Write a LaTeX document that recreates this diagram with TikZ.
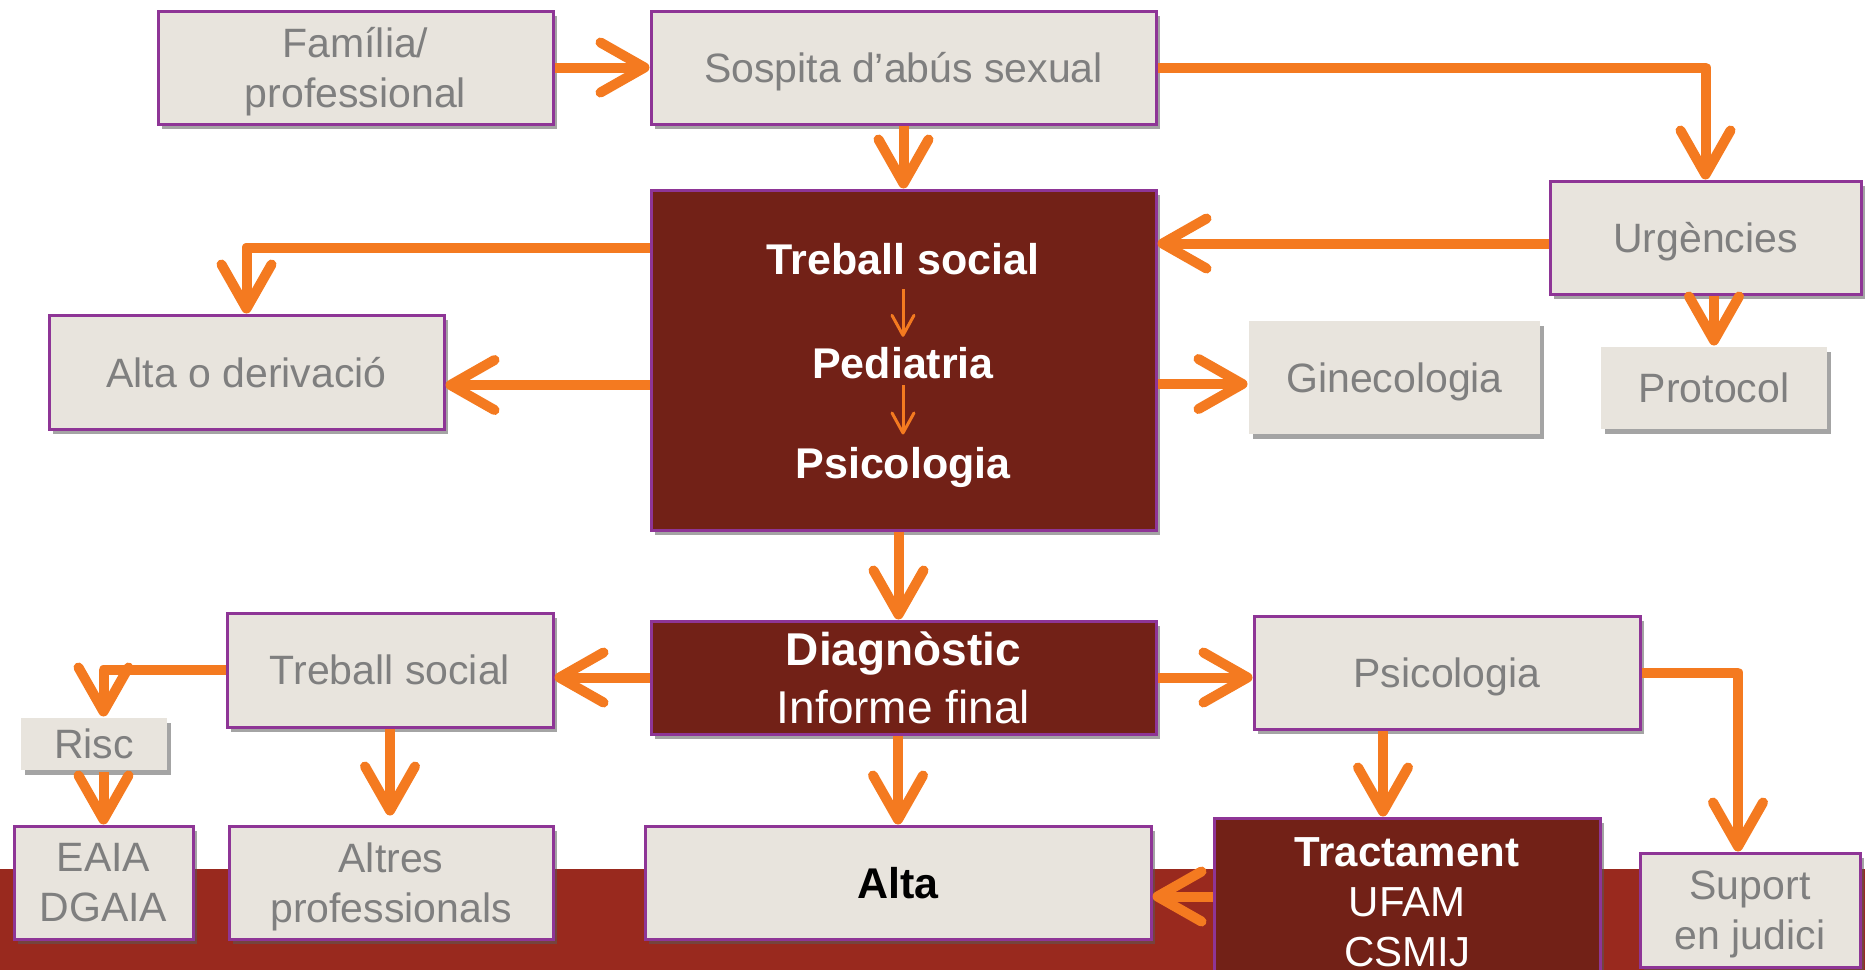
\documentclass[tikz,border=0pt]{standalone}
\usepackage{fontspec}
\setmainfont{Liberation Sans}
\usetikzlibrary{arrows.meta,shadows,calc}
\definecolor{boxfill}{HTML}{E8E4DD}
\definecolor{boxline}{HTML}{8E3596}
\definecolor{txtgray}{HTML}{7F7F7F}
\definecolor{darkbox}{HTML}{722117}
\definecolor{barred}{HTML}{99291E}
\definecolor{orangec}{HTML}{F47A20}
\begin{document}
\begin{tikzpicture}[x=0.5pt,y=-0.5pt,
  lightbox/.style={fill=boxfill, draw=boxline, line width=1.5pt, text=txtgray, align=center, inner sep=0pt,
    text depth=0pt,
    font=\fontsize{20.5pt}{25pt}\selectfont,
    drop shadow={shadow xshift=2pt, shadow yshift=-2.5pt, fill=black!65, opacity=0.55}},
  plainbox/.style={lightbox, draw=none},
  darkbx/.style={lightbox, fill=darkbox, text=white},
  intext/.style={text=white, inner sep=0pt, font=\bfseries\fontsize{21.5pt}{26pt}\selectfont},
  flow/.style={draw=orangec, line width=5pt, line join=round, -{Straight Barb[length=22pt,width=25pt,round]}},
  smallflow/.style={draw=orangec, line width=1.5pt, -{Straight Barb[length=10pt,width=11pt,round]}},
]
\useasboundingbox (0,0) rectangle (1865,970);
\fill[barred] (0,869) rectangle (1865,970);

% top row
\node[lightbox, minimum width=197.5pt, minimum height=56.5pt] (fam) at (355.5,67.5) {Família/\\professional};
\node[lightbox, minimum width=252.5pt, minimum height=56.5pt] (sosp) at (903.5,67.5) {Sospita d’abús sexual};
\node[lightbox, minimum width=155.5pt, minimum height=56.5pt] (urg) at (1705.5,237.5) {Urgències};
\node[plainbox, minimum width=113pt, minimum height=41pt] (prot) at (1714,388) {Protocol};

% main box
\node[darkbx, minimum width=252.5pt, minimum height=170pt] (main) at (903.5,360) {};
\node[intext] (t1) at (903,259) {Treball social};
\node[intext] (t2) at (903,363) {Pediatria};
\node[intext] (t3) at (903,467) {Psicologia};

\node[lightbox, minimum width=197.5pt, minimum height=57pt] (altader) at (246.5,372) {Alta o derivació};
\node[plainbox, minimum width=145.5pt, minimum height=56.5pt] (gine) at (1394.5,377.5) {Ginecologia};

% middle row
\node[darkbx, minimum width=252.5pt, minimum height=56.5pt, font=\fontsize{23pt}{29pt}\selectfont] (diag) at (903.5,677.5) {{\bfseries Diagnòstic}\\Informe final};
\node[lightbox, minimum width=163pt, minimum height=57pt] (ts) at (390,670) {Treball social};
\node[lightbox, minimum width=193pt, minimum height=56.5pt] (psic) at (1447,672.5) {Psicologia};
\node[plainbox, minimum width=73pt, minimum height=26pt] (risc) at (94,744) {Risc};

% bottom row
\node[lightbox, minimum width=89.5pt, minimum height=56.5pt] (eaia) at (103.5,882.5) {EAIA\\DGAIA};
\node[lightbox, minimum width=162pt, minimum height=56.5pt] (altres) at (391,882.5) {Altres\\professionals};
\node[lightbox, minimum width=253pt, minimum height=56.5pt, text=black, font=\bfseries\fontsize{21.5pt}{26pt}\selectfont] (alta) at (898,882.5) {Alta};
\node[darkbx, minimum width=193pt, minimum height=100pt] (tract) at (1407,918) {};
\node[text=white, align=center, inner sep=0pt, font=\fontsize{21pt}{25pt}\selectfont] (tracttxt) at (1407,902) {{\bfseries Tractament}\\UFAM\\CSMIJ};
\node[lightbox, minimum width=110pt, minimum height=57pt] (suport) at (1750,910) {Suport\\en judici};

% connectors
\draw[flow] (fam) -- (sosp);
\draw[flow] (sosp.east) -| (urg.north);
\draw[flow] (sosp) -- (main);
\draw[flow] ([yshift=-3pt]urg.west) -- ([yshift=-3pt]urg.west -| main.east);
\draw[flow] (urg.south -| prot.north) -- (prot.north);
\draw[flow] ($(main.north west)+(0,59)$) -| (altader.north);
\draw[flow] ($(main.west)+(0,25)$) -- ($(altader.east)+(0,13)$);
\draw[flow] ($(main.east)+(0,24)$) -- ($(gine.west)+(0,6.5)$);
\draw[flow] ($(main.south)+(-5,0)$) -- ($(diag.north)+(-5,0)$);
\draw[flow] (diag.west) -- (diag.west -| ts.east);
\draw[flow] (diag.east) -- (diag.east -| psic.west);
\draw[flow] (diag.south -| alta.north) -- (alta.north);
\draw[flow] (ts.west) -| (eaia.north |- risc.north);
\draw[flow] (risc.south -| eaia.north) -- (eaia.north);
\draw[flow] (ts.south) -- ($(ts.south |- altres.north)+(0,-9)$);
\draw[flow] ($(psic.south)+(-64,0)$) -- ($(psic.south |- tract.north)+(-64,0)$);
\draw[flow] ($(tract.north west)+(0,80)$) -- ($(alta.east |- tract.north west)+(0,80)$);
\draw[flow] (psic.east) -| ($(suport.north)+(-12,0)$);

\draw[smallflow, shorten <=7pt, shorten >=5pt] (t1.south) -- (t2.north);
\draw[smallflow, shorten <=3pt, shorten >=6pt] (t2.south) -- (t3.north);
\end{tikzpicture}
\end{document}
